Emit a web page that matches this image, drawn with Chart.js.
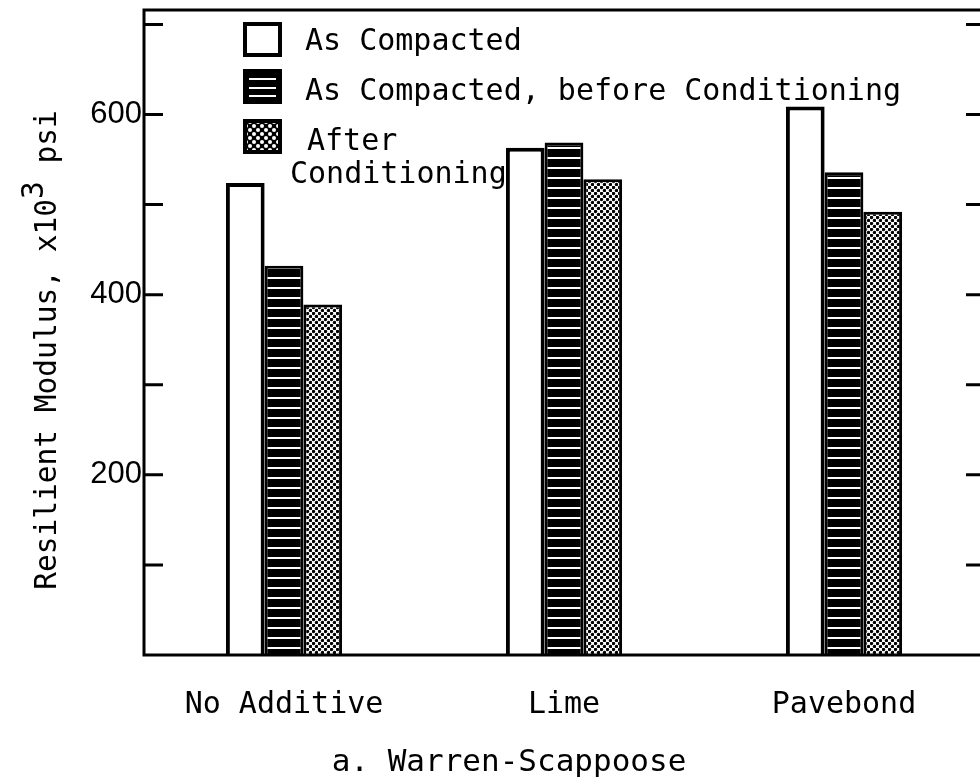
<!DOCTYPE html>
<html>
<head>
<meta charset="utf-8">
<script src="https://cdn.jsdelivr.net/npm/chart.js@4"></script>
<style>
  html, body { margin: 0; padding: 0; background: #fff; overflow: hidden; }
  #wrap { width: 990px; height: 782px; }
</style>
</head>
<body>
<div id="wrap"><canvas id="chart" width="990" height="782"></canvas></div>
<script>
var categories = ['No Additive', 'Lime', 'Pavebond'];
var asCompacted = [524, 563, 609];
var beforeConditioning = [432, 569, 536];
var afterConditioning = [389, 528, 492];
var yTicks = [0, 100, 200, 300, 400, 500, 600, 700];
var yTickLabels = [200, 400, 600];

var MONO = '"DejaVu Sans Mono", "Liberation Mono", monospace';

// fill patterns
function makePattern(w, h, draw) {
    var c = document.createElement('canvas');
    c.width = w; c.height = h;
    var g = c.getContext('2d');
    draw(g, w, h);
    return document.getElementById('chart').getContext('2d').createPattern(c, 'repeat');
}
var stripes = makePattern(10, 10, function (g, w, h) {
    g.fillStyle = '#000'; g.fillRect(0, 0, w, h);
    g.fillStyle = '#fff'; g.fillRect(0, 7, w, 2);
});
var dots = makePattern(6, 6, function (g, w, h) {
    g.fillStyle = '#fff'; g.fillRect(0, 0, w, h);
    g.fillStyle = '#000';
    [[1.5, 1.5], [4.5, 4.5]].forEach(function (p) {
        g.beginPath(); g.arc(p[0], p[1], 1.7, 0, Math.PI * 2); g.fill();
    });
});
var legendDots = makePattern(8, 8, function (g, w, h) {
    g.fillStyle = '#000'; g.fillRect(0, 0, w, h);
    g.fillStyle = '#fff';
    [[2, 2], [6, 6]].forEach(function (p) {
        g.beginPath(); g.arc(p[0], p[1], 2, 0, Math.PI * 2); g.fill();
    });
});

// frame, inward ticks, legend, axis title and caption
var decorations = {
    id: 'decorations',
    afterDraw: function (chart) {
        var ctx = chart.ctx;
        var a = chart.chartArea;
        var y = chart.scales.y;
        ctx.save();
        ctx.strokeStyle = '#000';
        ctx.lineWidth = 3;
        ctx.strokeRect(a.left, a.top, a.right - a.left, a.bottom - a.top);
        yTicks.forEach(function (v) {
            if (v === 0) return;
            var py = y.getPixelForValue(v);
            ctx.beginPath();
            ctx.moveTo(a.left, py); ctx.lineTo(a.left + 19, py);
            ctx.moveTo(a.right, py); ctx.lineTo(a.right - 18, py);
            ctx.stroke();
        });

        // legend
        var ds = chart.data.datasets;
        var boxes = [
            { y: 24, fill: '#fff' },
            { y: 71, fill: '#000', lines: [78, 87, 95] },
            { y: 121, fill: legendDots }
        ];
        boxes.forEach(function (b) {
            ctx.fillStyle = b.fill;
            ctx.fillRect(245, b.y, 35, 31);
            if (b.lines) {
                ctx.fillStyle = '#fff';
                b.lines.forEach(function (ly) { ctx.fillRect(249, ly, 27, 2); });
            }
            ctx.lineWidth = 4;
            ctx.strokeStyle = '#000';
            ctx.strokeRect(245, b.y, 35, 31);
        });
        ctx.fillStyle = '#000';
        ctx.font = '30px ' + MONO;
        ctx.textBaseline = 'alphabetic';
        ctx.textAlign = 'left';
        ctx.fillText(ds[0].label, 305, 50);
        ctx.fillText(ds[1].label, 305, 100);
        ctx.fillText('After', 307, 150);
        ctx.fillText('Conditioning', 290, 183);

        // y axis title
        ctx.translate(48, 350);
        ctx.rotate(-Math.PI / 2);
        ctx.font = '29.5px ' + MONO;
        var t1 = 'Resilient Modulus, x10';
        var t2 = '3';
        var t3 = ' psi';
        var w1 = ctx.measureText(t1).width;
        var w2 = ctx.measureText(t2).width;
        var w3 = ctx.measureText(t3).width;
        var x0 = -(w1 + w2 + w3) / 2;
        ctx.textBaseline = 'middle';
        ctx.fillText(t1, x0, 0);
        ctx.fillText(t2, x0 + w1, -13);
        ctx.fillText(t3, x0 + w1 + w2, 0);
        ctx.restore();

        // caption
        ctx.save();
        ctx.fillStyle = '#000';
        ctx.font = '31px ' + MONO;
        ctx.textAlign = 'center';
        ctx.textBaseline = 'middle';
        ctx.fillText('a. Warren-Scappoose', 509, 763);
        ctx.restore();
    }
};

var ctx = document.getElementById('chart').getContext('2d');
var myChart = new Chart(ctx, {
    type: 'bar',
    data: {
        labels: categories,
        datasets: [{
            label: 'As Compacted',
            data: asCompacted,
            backgroundColor: '#fff',
            borderColor: '#000',
            borderWidth: 4
        }, {
            label: 'As Compacted, before Conditioning',
            data: beforeConditioning,
            backgroundColor: stripes,
            borderColor: '#000',
            borderWidth: 3
        }, {
            label: 'After Conditioning',
            data: afterConditioning,
            backgroundColor: dots,
            borderColor: '#000',
            borderWidth: 3
        }]
    },
    options: {
        responsive: false,
        animation: false,
        layout: { padding: { top: 10, right: 6, left: 0, bottom: 0 } },
        datasets: {
            bar: { categoryPercentage: 0.415, barPercentage: 1, borderSkipped: 'bottom' }
        },
        plugins: {
            legend: { display: false },
            tooltip: { enabled: false }
        },
        scales: {
            x: {
                grid: { display: false, drawTicks: false },
                border: { display: false },
                ticks: {
                    color: '#000',
                    padding: 32,
                    font: { family: MONO, size: 30 }
                },
                afterFit: function (s) {
                    s.height = 127;
                    s.paddingLeft = 0;
                    s.paddingRight = 0;
                }
            },
            y: {
                min: 0,
                max: 716,
                grid: { display: false, drawTicks: false },
                border: { display: false },
                afterBuildTicks: function (s) {
                    s.ticks = yTicks.map(function (v) { return { value: v }; });
                },
                ticks: {
                    autoSkip: false,
                    color: '#000',
                    padding: 2,
                    font: { family: '"Liberation Sans", Arial, sans-serif', size: 31 },
                    callback: function (v) {
                        return yTickLabels.indexOf(v) >= 0 ? String(v) : '';
                    }
                },
                afterFit: function (s) {
                    s.width = 144;
                    s.paddingTop = 0;
                    s.paddingBottom = 0;
                }
            }
        }
    },
    plugins: [decorations]
});
</script>
</body>
</html>
